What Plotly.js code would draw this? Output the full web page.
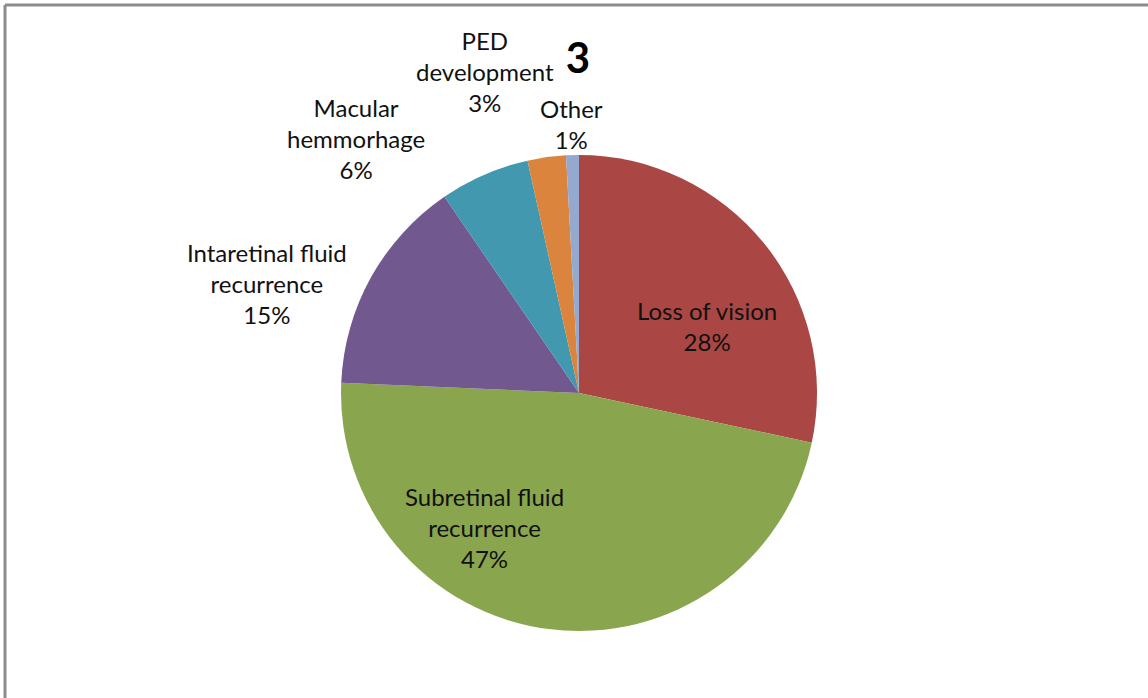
<!DOCTYPE html>
<html>
<head>
<meta charset="utf-8">
<script src="https://cdn.plot.ly/plotly-3.0.1.min.js"></script>
<style>
html,body{margin:0;padding:0;background:#fff;}
#chart{width:1148px;height:698px;}
</style>
</head>
<body>
<div id="chart"></div>
<script>
// Categories (display text with line breaks as in the original)
const categories = ["Loss of vision", "Subretinal fluid recurrence", "Intaretinal fluid recurrence", "Macular hemmorhage", "PED development", "Other"];
const displayLabels = ["Loss of vision", "Subretinal fluid<br>recurrence", "Intaretinal fluid<br>recurrence", "Macular<br>hemmorhage", "PED<br>development", "Other"];
const sliceShares = [28.35, 47.35, 14.75, 6.1, 2.6, 0.87];
// Percent labels as printed on the chart
const percentLabels = ["28%", "47%", "15%", "6%", "3%", "1%"];
const colors = ["#AA4643", "#89A54E", "#71588F", "#4198AF", "#DB843D", "#93A9CF"];
const chartTitle = "3";

// label placement (pixel centers in the 1148x698 frame)
const W = 1148, H = 698;
const labelPos = [[707, 326], [484, 527], [267, 283], [356, 138], [485, 71], [571, 124]];

const annotations = categories.map((c, i) => ({
  xref: 'paper', yref: 'paper',
  x: labelPos[i][0] / W, y: 1 - labelPos[i][1] / H,
  xanchor: 'center', yanchor: 'middle',
  text: displayLabels[i] + '<br>' + percentLabels[i],
  showarrow: false,
  align: 'center',
  font: {family: 'Lato, "Open Sans", sans-serif', size: 24, color: '#111'}
}));

const data = [{
  type: 'pie',
  labels: categories,
  values: sliceShares,
  sort: false,
  direction: 'clockwise',
  rotation: 0,
  marker: {colors: colors, line: {width: 0}},
  textinfo: 'none',
  hoverinfo: 'label+percent',
  showlegend: false,
  domain: {x: [341 / W, 817 / W], y: [1 - 631 / H, 1 - 155 / H]}
}];

const layout = {
  width: W, height: H,
  margin: {l: 0, r: 0, t: 0, b: 0},
  paper_bgcolor: '#fff',
  plot_bgcolor: '#fff',
  showlegend: false,
  title: {
    text: '<b>' + chartTitle + '</b>',
    x: 578 / W, xanchor: 'center', xref: 'paper',
    y: 1 - 58 / H, yanchor: 'middle', yref: 'paper',
    font: {family: 'Lato, "Open Sans", sans-serif', size: 42, color: '#000'}
  },
  annotations: annotations,
  shapes: [
    {type: 'line', xref: 'paper', yref: 'paper', x0: 5 / W, x1: 5 / W, y0: -0.05, y1: 1 - 5 / H, line: {color: '#8c8c8c', width: 3}},
    {type: 'line', xref: 'paper', yref: 'paper', x0: 5 / W, x1: 1.05, y0: 1 - 5 / H, y1: 1 - 5 / H, line: {color: '#8c8c8c', width: 3}}
  ]
};

Plotly.newPlot('chart', data, layout, {displayModeBar: false, staticPlot: true});
</script>
</body>
</html>
